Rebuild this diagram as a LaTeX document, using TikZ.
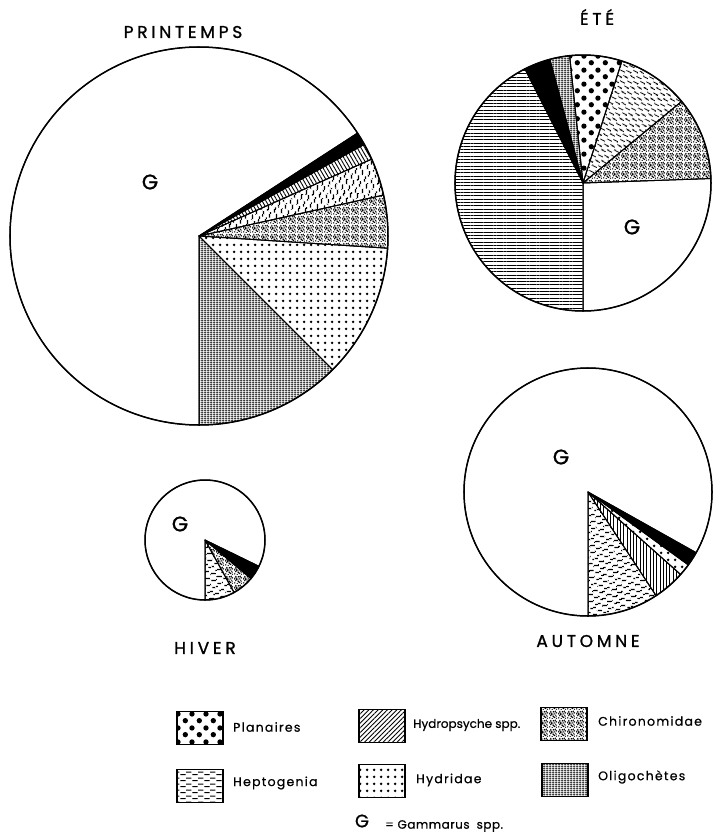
\documentclass[tikz,border=0pt]{standalone}
\usepackage{fontspec}
\setmainfont{Poppins}
\newfontfamily\titlefont[LetterSpace=22, FakeBold=1.2]{Poppins}
\newfontfamily\legfont[LetterSpace=10, FakeBold=0.6]{Poppins}
\newfontfamily\hyfont[FakeBold=0.6]{Poppins}
\newfontfamily\gamfont[LetterSpace=4, FakeBold=0.6]{Poppins}
\newfontfamily\gfont[FakeBold=1]{Poppins}
\usetikzlibrary{patterns.meta}

\pgfdeclarepattern{
  name=hepto,
  parameters={\hepang},
  bottom left={\pgfpoint{0pt}{0pt}},
  top right={\pgfpoint{12pt}{6pt}},
  tile size={\pgfpoint{12pt}{6pt}},
  tile transformation={\pgftransformrotate{\hepang}},
  code={
    \pgfsetlinewidth{1.2pt}
    \pgfpathmoveto{\pgfpoint{0.5pt}{1.5pt}}\pgfpathlineto{\pgfpoint{6pt}{1.5pt}}
    \pgfpathmoveto{\pgfpoint{6.5pt}{4.5pt}}\pgfpathlineto{\pgfpoint{12pt}{4.5pt}}
    \pgfusepath{stroke}
  }
}
\tikzset{hep angle/.store in=\hepang, hep angle=0}

\pgfdeclarepattern{
  name=planaires,
  type=uncolored,
  bottom left={\pgfpoint{0pt}{0pt}},
  top right={\pgfpoint{14pt}{14pt}},
  tile size={\pgfpoint{14pt}{14pt}},
  code={
    \pgfpathcircle{\pgfpoint{3.5pt}{3.5pt}}{2.8pt}
    \pgfpathcircle{\pgfpoint{10.5pt}{10.5pt}}{2.8pt}
    \pgfusepath{fill}
  }
}

\pgfdeclarepattern{
  name=hydridae,
  type=uncolored,
  bottom left={\pgfpoint{0pt}{0pt}},
  top right={\pgfpoint{7pt}{7pt}},
  tile size={\pgfpoint{7pt}{7pt}},
  code={
    \pgfpathcircle{\pgfpoint{3.5pt}{3.5pt}}{1.6pt}
    \pgfusepath{fill}
  }
}

\pgfdeclarepattern{
  name=chiro,
  type=uncolored,
  bottom left={\pgfpoint{0pt}{0pt}},
  top right={\pgfpoint{9pt}{9pt}},
  tile size={\pgfpoint{9pt}{9pt}},
  code={
    \foreach \px/\py/\pr in {0.8/1.2/0.85,3.5/0.6/0.75,6.1/1.8/0.9,8.2/0.9/0.7,1.9/3.6/0.85,4.7/3.0/0.95,
      7.3/4.1/0.75,0.7/5.6/0.85,3.0/6.2/0.9,5.6/5.4/0.75,8.2/6.7/0.85,2.1/8.3/0.75,4.9/7.9/0.85,
      6.9/8.4/0.85,1.3/7.1/0.6,5.2/2.1/0.6,2.6/4.8/0.6,7.8/2.9/0.6,4.0/4.6/0.55,6.6/6.6/0.6}
      {\pgfpathcircle{\pgfpoint{\px pt}{\py pt}}{\pr pt}}
    \pgfusepath{fill}
  }
}

\pgfdeclarepattern{
  name=oligo,
  type=uncolored,
  bottom left={\pgfpoint{0pt}{0pt}},
  top right={\pgfpoint{3pt}{2.2pt}},
  tile size={\pgfpoint{3pt}{2.2pt}},
  code={
    \pgfsetlinewidth{1.0pt}
    \pgfpathmoveto{\pgfpoint{0pt}{1.1pt}}\pgfpathlineto{\pgfpoint{3pt}{1.1pt}}
    \pgfusepath{stroke}
    \pgfsetlinewidth{0.55pt}
    \pgfpathmoveto{\pgfpoint{1.5pt}{0pt}}\pgfpathlineto{\pgfpoint{1.5pt}{2.2pt}}
    \pgfusepath{stroke}
  }
}

\newcommand\pieslice[5][]{%
  \path[#1] (#2) -- ++({-(#3)}:#5) arc[start angle={-(#3)}, end angle={-(#4)}, radius=#5] -- cycle;}

\tikzset{
  sl/.style={draw, line width=1pt, line join=round},
  rim/.style={draw, line width=1.5pt},
  hydro/.style={pattern={Lines[angle=#1, distance=3.3pt, line width=0.9pt]}},
  ttl/.style={font=\titlefont\fontsize{17}{17}\selectfont, inner sep=0pt},
  glab/.style={font=\gfont\fontsize{21}{21}\selectfont, inner sep=0pt},
  legbox/.style={draw, line width=1.6pt, minimum width=46pt, minimum height=33pt, inner sep=0pt},
  legtxt/.style={font=\legfont\fontsize{12.5}{13}\selectfont, anchor=west, inner sep=0pt},
}

\begin{document}
\begin{tikzpicture}[x=1pt,y=-1pt]
\useasboundingbox (0,0) rectangle (714,836);
\fill[white] (0,0) rectangle (714,836);

% ---------- PRINTEMPS ----------
\coordinate (P) at (199,236);
\def\rP{189}
\pieslice[sl, fill=black]{P}{29}{33}{\rP}
\pieslice[sl, hydro=-60]{P}{24}{29}{\rP}
\pieslice[sl, hep angle=78, pattern=hepto]{P}{12.5}{24}{\rP}
\pieslice[sl, pattern=chiro]{P}{-3.7}{12.5}{\rP}
\pieslice[sl, pattern=hydridae]{P}{-45}{-3.7}{\rP}
\pieslice[sl, pattern=oligo]{P}{-90}{-45}{\rP}
\pieslice[sl]{P}{33}{270}{\rP}
\draw[rim] (P) circle[radius=\rP];
\node[glab] (gP) at (150,182) {G};
\node[ttl] (tP) at (183,32) {PRINTEMPS};

% ---------- ETE ----------
\coordinate (E) at (583,183);
\def\rE{128}
\pieslice[sl]{E}{-90}{2}{\rE}
\pieslice[sl, pattern=chiro]{E}{2}{39.6}{\rE}
\pieslice[sl, hep angle=-30, pattern=hepto]{E}{39.6}{72.3}{\rE}
\pieslice[sl, pattern=planaires]{E}{72.3}{96}{\rE}
\pieslice[sl, pattern=oligo]{E}{96}{105}{\rE}
\pieslice[sl, fill=black]{E}{105}{117}{\rE}
\pieslice[sl, hydro=0]{E}{117}{270}{\rE}
\draw[rim] (E) circle[radius=\rE];
\node[glab] (gE) at (632,227) {G};
\node[ttl] (tE) at (597,17) {ÉTÉ};

% ---------- HIVER ----------
\coordinate (H) at (205,540);
\def\rH{60}
\pieslice[sl, hep angle=10, pattern=hepto]{H}{-90}{-61}{\rH}
\pieslice[sl, pattern=chiro]{H}{-61}{-40}{\rH}
\pieslice[sl, fill=black]{H}{-40}{-26}{\rH}
\pieslice[sl]{H}{-26}{270}{\rH}
\draw[rim] (H) circle[radius=\rH];
\node[glab] (gH) at (180,524) {G};
\node[ttl] (tH) at (205,648) {HIVER};

% ---------- AUTOMNE ----------
\coordinate (A) at (588,492);
\def\rA{124}
\pieslice[sl, hep angle=12, pattern=hepto]{A}{-90}{-56.7}{\rA}
\pieslice[sl, hydro=90]{A}{-56.7}{-41.7}{\rA}
\pieslice[sl, pattern=hydridae]{A}{-41.7}{-36}{\rA}
\pieslice[sl, fill=black]{A}{-36}{-29.3}{\rA}
\pieslice[sl]{A}{-29.3}{270}{\rA}
\draw[rim] (A) circle[radius=\rA];
\node[glab] (gA) at (561,457) {G};
\node[ttl] (tA) at (588,641) {AUTOMNE};

% ---------- LEGEND ----------
\node[legbox, pattern=planaires] (bPl) at (200,728) {};
\node[legtxt] (lPl) at (233,727) {Planaires};
\node[legbox, hep angle=0, pattern=hepto] (bHe) at (200,786) {};
\node[legtxt] (lHe) at (233,783) {Heptogenia};
\node[legbox, hydro=45] (bHy) at (382,726) {};
\node[legtxt, font=\hyfont\fontsize{12}{13}\selectfont] (lHy) at (413,725) {Hydropsyche spp.};
\node[legbox, pattern=hydridae] (bHd) at (382,781) {};
\node[legtxt] (lHd) at (416,780) {Hydridae};
\node[legbox, pattern=chiro] (bCh) at (564,724) {};
\node[legtxt] (lCh) at (598,721) {Chironomidae};
\node[legbox, pattern=oligo] (bOl) at (565,780) {};
\node[legtxt] (lOl) at (598,777) {Oligochètes};
\node[glab, font=\gfont\fontsize{18}{18}\selectfont] (gL) at (362,821) {G};
\node[legtxt, font=\gamfont\fontsize{12}{12}\selectfont] (lG) at (385,826) {= Gammarus\hspace{7pt}spp.};
\end{tikzpicture}
\end{document}
